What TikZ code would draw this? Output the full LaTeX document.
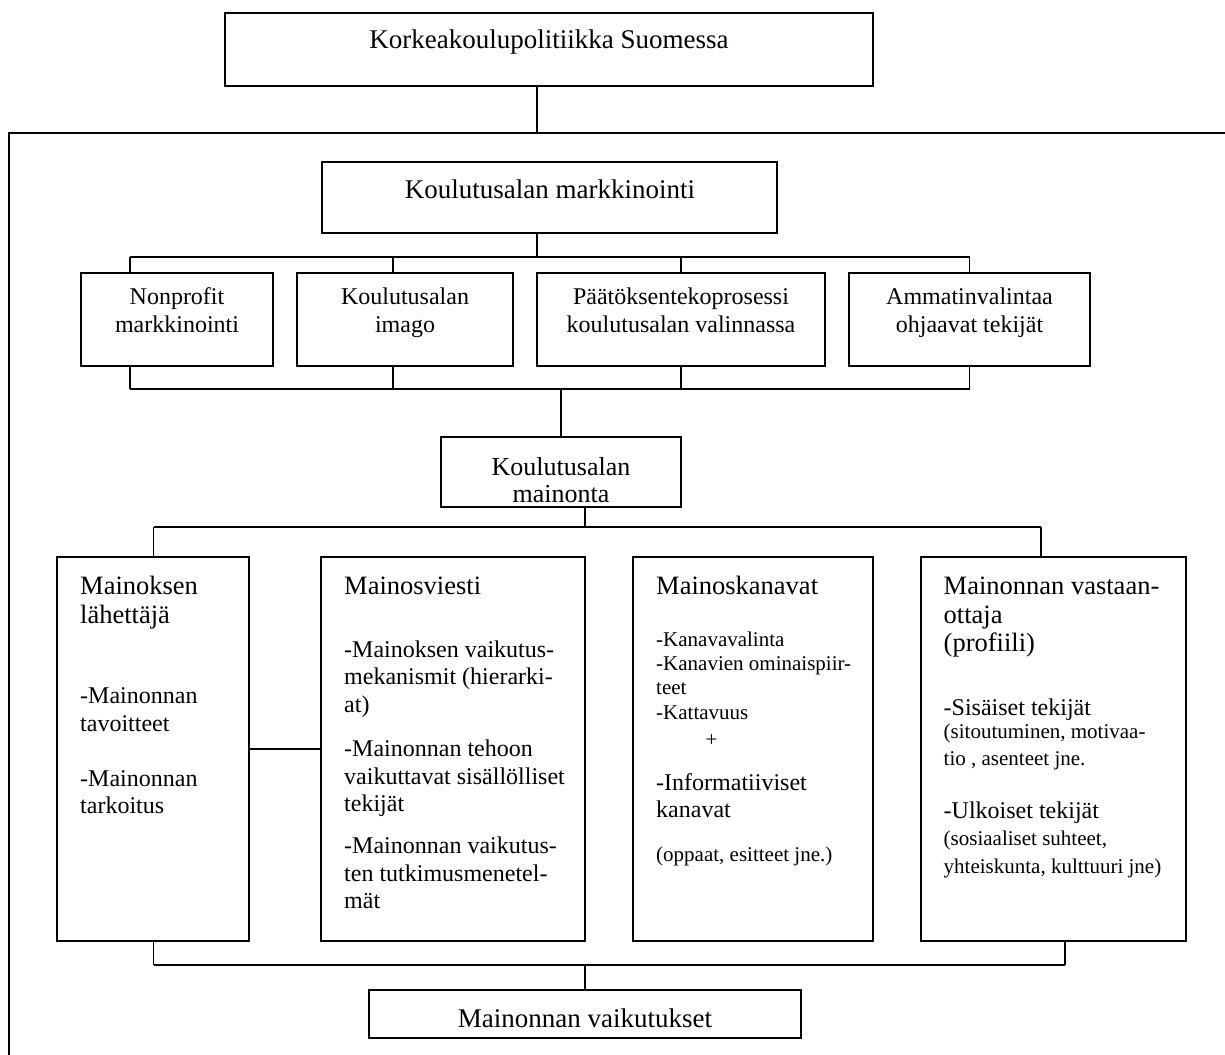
\documentclass[tikz,border=0pt]{standalone}
\usepackage{fontspec}
\setmainfont{Liberation Serif}
\begin{document}
\begin{tikzpicture}[x=1pt,y=-1pt,
  box/.style={draw, line width=1.6pt, inner sep=0pt, outer sep=0pt, anchor=north west},
  link/.style={line width=1.3pt},
  frameline/.style={line width=2.2pt},
  tc/.style={inner sep=0pt, anchor=base},
  tl/.style={inner sep=0pt, anchor=base west},
  fBig/.style={font=\fontsize{27}{31}\selectfont},
  fMid/.style={font=\fontsize{26}{30}\selectfont},
  fHead/.style={font=\fontsize{26.5}{30}\selectfont},
  fBody/.style={font=\fontsize{24}{27.6}\selectfont},
  fSmall/.style={font=\fontsize{21}{24}\selectfont},
]
\useasboundingbox (0,0) rectangle (1225,1054);
\clip (0,0) rectangle (1225,1054);

% outer frame (continues past the right and bottom edges)
\coordinate (fr) at (9,133);
\draw[frameline] (fr) rectangle ++(1300,1000);

% ---------- boxes ----------
\node[box, minimum width=648pt, minimum height=73pt] (top) at (225,13) {};
\node[box, minimum width=455pt, minimum height=71pt] (mk) at (322,162) {};

\node[box, minimum width=192pt, minimum height=93pt] (np) at (81,273) {};
\node[box, minimum width=216pt, minimum height=93pt] (im) at (297,273) {};
\node[box, minimum width=288pt, minimum height=93pt] (pp) at (537,273) {};
\node[box, minimum width=241pt, minimum height=93pt] (am) at (849,273) {};

\node[box, minimum width=240pt, minimum height=70pt] (mn) at (441,437) {};

\node[box, minimum width=192pt, minimum height=384pt] (l1) at (57,557) {};
\node[box, minimum width=264pt, minimum height=384pt] (l2) at (321,557) {};
\node[box, minimum width=240pt, minimum height=384pt] (l3) at (633,557) {};
\node[box, minimum width=265pt, minimum height=384pt] (l4) at (921,557) {};

\node[box, minimum width=432pt, minimum height=48pt] (vk) at (369,990) {};

% ---------- connectors ----------
\coordinate (j0) at (537,133);
\draw[link] (top.south -| j0) -- (j0);

\coordinate (a0) at (537,257);
\coordinate (a1) at (130,257);
\coordinate (a2) at (393,257);
\coordinate (a3) at (681,257);
\coordinate (a4) at (969.5,257);
\draw[link] (mk.south -| a0) -- (a0);
\draw[link] (a1) -- (a4);
\draw[link] (a1) -- (np.north -| a1);
\draw[link] (a2) -- (im.north -| a2);
\draw[link] (a3) -- (pp.north -| a3);
\draw[link] (a4) -- (am.north -| a4);

\coordinate (b0) at (561,389);
\coordinate (b1) at (130,389);
\coordinate (b2) at (393,389);
\coordinate (b3) at (681,389);
\coordinate (b4) at (969.5,389);
\draw[link] (b1) -- (b4);
\draw[link] (b1) -- (np.south -| b1);
\draw[link] (b2) -- (im.south -| b2);
\draw[link] (b3) -- (pp.south -| b3);
\draw[link] (b4) -- (am.south -| b4);
\draw[link] (b0) -- (mn.north -| b0);

\coordinate (c0) at (585,527);
\coordinate (c1) at (153.5,527);
\coordinate (c4) at (1041,527);
\draw[link] (mn.south -| c0) -- (c0);
\draw[link] (c1) -- (c4);
\draw[link] (c1) -- (l1.north -| c1);
\draw[link] (c4) -- (l4.north -| c4);

\coordinate (m12) at (285,749);
\draw[link] (l1.east |- m12) -- (l2.west |- m12);

\coordinate (d0) at (585,965);
\coordinate (d1) at (153.5,965);
\coordinate (d4) at (1065,965);
\draw[link] (d1) -- (d4);
\draw[link] (d1) -- (l1.south -| d1);
\draw[link] (d4) -- (l4.south -| d4);
\draw[link] (d0) -- (vk.north -| d0);

% ---------- texts ----------
\node[tc, fBig] (top-t) at (549,49) {Korkeakoulupolitiikka Suomessa};
\node[tc, fBig] (mk-t) at (550,198) {Koulutusalan markkinointi};

\node[tc, fBody] (np-t1) at (177,304) {Nonprofit};
\node[tc, fBody] (np-t2) at (177,332) {markkinointi};
\node[tc, fBody] (im-t1) at (405,304) {Koulutusalan};
\node[tc, fBody] (im-t2) at (405,332) {imago};
\node[tc, fBody] (pp-t1) at (681,304) {Päätöksentekoprosessi};
\node[tc, fBody] (pp-t2) at (681,332) {koulutusalan valinnassa};
\node[tc, fBody] (am-t1) at (969.5,304) {Ammatinvalintaa};
\node[tc, fBody] (am-t2) at (969.5,332) {ohjaavat tekijät};

\node[tc, fMid] (mn-t1) at (561,475) {Koulutusalan};
\node[tc, fMid] (mn-t2) at (561,502) {mainonta};

% sender
\node[tl, fHead] (l1-h1) at (80,594) {Mainoksen};
\node[tl, fHead] (l1-h2) at (80,623) {lähettäjä};
\node[tl, fBody] (l1-a1) at (80,703) {-Mainonnan};
\node[tl, fBody] (l1-a2) at (80,731) {tavoitteet};
\node[tl, fBody] (l1-b1) at (80,786) {-Mainonnan};
\node[tl, fBody] (l1-b2) at (80,813) {tarkoitus};

% message
\node[tl, fHead] (l2-h1) at (344,594) {Mainosviesti};
\node[tl, fBody] (l2-a1) at (344,657) {-Mainoksen vaikutus-};
\node[tl, fBody] (l2-a2) at (344,684) {mekanismit (hierarki-};
\node[tl, fBody] (l2-a3) at (344,712) {at)};
\node[tl, fBody] (l2-b1) at (344,756) {-Mainonnan tehoon};
\node[tl, fBody] (l2-b2) at (344,784) {vaikuttavat sisällölliset};
\node[tl, fBody] (l2-b3) at (344,811) {tekijät};
\node[tl, fBody] (l2-c1) at (344,853) {-Mainonnan vaikutus-};
\node[tl, fBody] (l2-c2) at (344,881) {ten tutkimusmenetel-};
\node[tl, fBody] (l2-c3) at (344,908) {mät};

% channels
\node[tl, fHead] (l3-h1) at (656,594) {Mainoskanavat};
\node[tl, fSmall] (l3-a1) at (656,646) {-Kanavavalinta};
\node[tl, fSmall] (l3-a2) at (656,670.5) {-Kanavien ominaispiir-};
\node[tl, fSmall] (l3-a3) at (656,694) {teet};
\node[tl, fSmall] (l3-a4) at (656,719.5) {-Kattavuus};
\node[tc, fSmall] (l3-plus) at (711.5,746) {+};
\node[tl, fBody] (l3-b1) at (656,790) {-Informatiiviset};
\node[tl, fBody] (l3-b2) at (656,817) {kanavat};
\node[tl, fSmall] (l3-c1) at (656,861) {(oppaat, esitteet jne.)};

% receiver
\node[tl, fHead] (l4-h1) at (943.5,594) {Mainonnan vastaan-};
\node[tl, fHead] (l4-h2) at (943.5,623) {ottaja};
\node[tl, fHead] (l4-h3) at (943.5,651) {(profiili)};
\node[tl, fBody] (l4-a1) at (943.5,715) {-Sisäiset tekijät};
\node[tl, fSmall] (l4-a2) at (943.5,738) {(sitoutuminen, motivaa-};
\node[tl, fSmall] (l4-a3) at (943.5,765) {tio , asenteet jne.};
\node[tl, fBody] (l4-b1) at (943.5,818) {-Ulkoiset tekijät};
\node[tl, fSmall] (l4-b2) at (943.5,845) {(sosiaaliset suhteet,};
\node[tl, fSmall] (l4-b3) at (943.5,873) {yhteiskunta, kulttuuri jne)};

\node[tc, fBig] (vk-t) at (585,1027) {Mainonnan vaikutukset};
\end{tikzpicture}
\end{document}
